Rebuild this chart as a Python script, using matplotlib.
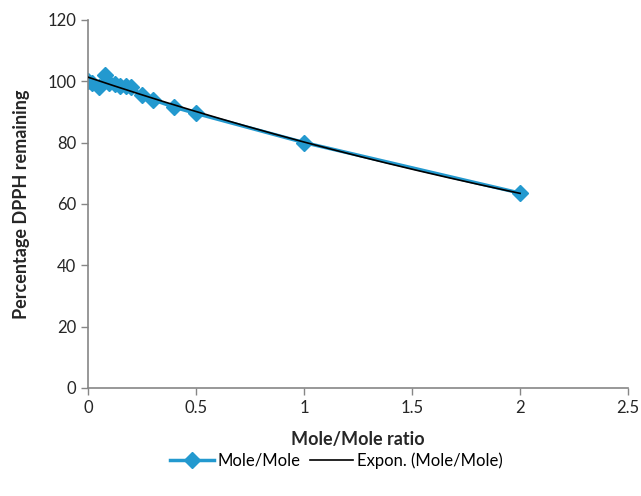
import matplotlib
matplotlib.use("Agg")
import matplotlib.pyplot as plt
from matplotlib.lines import Line2D
import numpy as np

plt.rcParams['font.family'] = ['Lato', 'DejaVu Sans']

# mole/mole ratio vs percentage DPPH remaining
ratio = [0, 0.02, 0.05, 0.08, 0.1, 0.125, 0.15, 0.175, 0.2, 0.25, 0.3, 0.4, 0.5, 1.0, 2.0]
dpph = [100, 99.5, 98, 102, 99.5, 99, 98.5, 98.5, 98, 95.5, 94, 91.5, 89.5, 80, 63.5]

x_ticks = [0, 0.5, 1, 1.5, 2, 2.5]
x_tick_labels = ['0', '0.5', '1', '1.5', '2', '2.5']
y_ticks = [0, 20, 40, 60, 80, 100, 120]

blue = '#2399CF'
grey = '#868686'

fig = plt.figure(figsize=(6.41, 4.96), dpi=100)
ax = fig.add_axes([0.137, 0.218, 0.843, 0.742])

ax.plot(ratio, dpph, color=blue, lw=2.5, marker='D', ms=8, mec=blue, mfc=blue, zorder=2)

# exponential trendline, fitted like Excel's "Expon." option
b, ln_a = np.polyfit(ratio, np.log(dpph), 1)
xf = np.linspace(min(ratio), max(ratio), 200)
ax.plot(xf, np.exp(ln_a) * np.exp(b * xf), color='black', lw=1.2, zorder=3)

ax.set_xlim(0, 2.5)
ax.set_ylim(0, 120)
ax.set_xticks(x_ticks)
ax.set_xticklabels(x_tick_labels)
ax.set_yticks(y_ticks)
for s in ['top', 'right']:
    ax.spines[s].set_visible(False)
for s in ['left', 'bottom']:
    ax.spines[s].set_color(grey)
    ax.spines[s].set_linewidth(1.2)
ax.tick_params(colors=grey, labelcolor='#262626', labelsize=12, length=5, width=1)

ax.set_xlabel('Mole/Mole ratio', fontsize=13, fontweight='bold', color='#262626', labelpad=11)
ax.set_ylabel('Percentage DPPH remaining', fontsize=13, fontweight='bold', color='#262626', labelpad=12)

handles = [Line2D([], [], color=blue, lw=2.5, marker='D', ms=8),
           Line2D([], [], color='black', lw=1.2)]
fig.legend(handles, ['Mole/Mole', 'Expon. (Mole/Mole)'], loc='center', bbox_to_anchor=(0.525, 0.072),
           ncol=2, frameon=False, fontsize=12, handlelength=2.6, columnspacing=0.6, handletextpad=0.2)

fig.savefig('out.png', dpi=100)
